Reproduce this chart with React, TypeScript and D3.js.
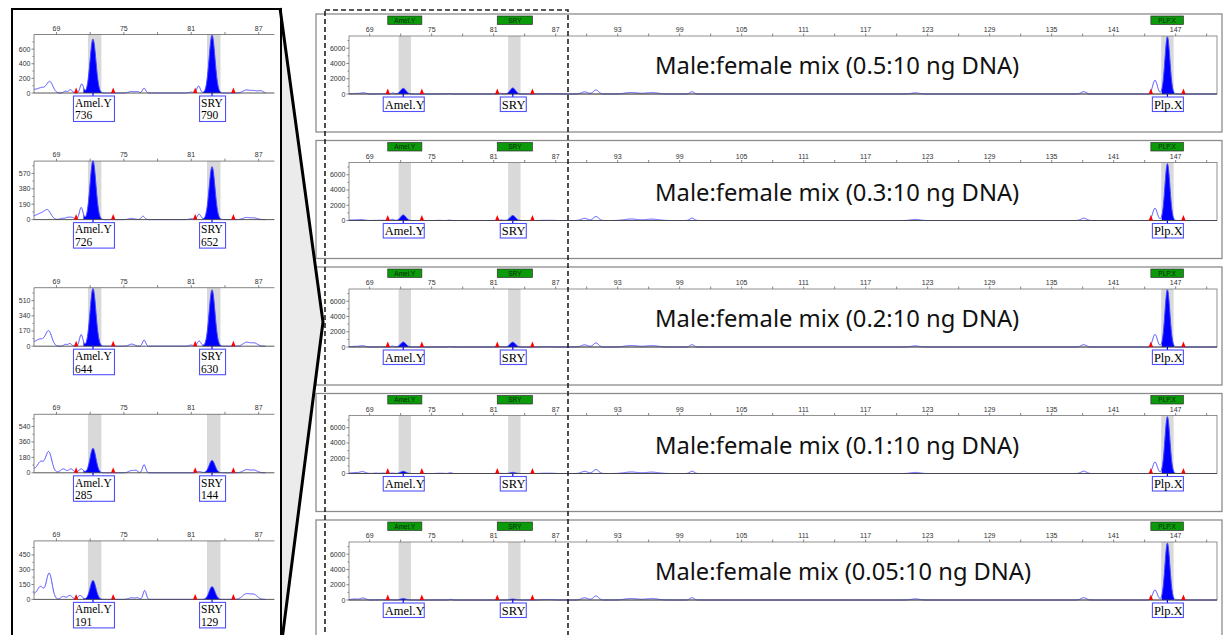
import React from 'react';
import * as d3 from 'd3';

// peaks: [size in bp, height in RFU, width (sigma, bp)]
type Peak = [number, number, number];

const mixLabels = ['0.5:10', '0.3:10', '0.2:10', '0.1:10', '0.05:10'];

const locusNames = ['Amel.Y', 'SRY', 'Plp.X'];
const locusTags = ['Amel.Y', 'SRY', 'PLP.X'];
const locusPeakBp = [72.25, 82.85, 146.2];
const locusSigma = [0.26, 0.26, 0.24];
const markerLo = [70.75, 81.35, 144.6];
const markerHi = [74.05, 84.75, 147.75];
const binLo = [71.8, 82.4, 145.6];
const binHi = [73.0, 83.6, 146.8];
const fillLo = [71.4, 82.0, 145.65];
const fillHi = [73.1, 83.7, 146.85];

const amelHeights = [736, 726, 644, 285, 191];
const sryHeights = [790, 652, 630, 144, 129];
const plpHeights = [7500, 7450, 7500, 7450, 7450];
const plpShoulder = [1800, 1600, 1650, 1500, 1300];
const plpShoulderBp = 145.0;

const zoomYMax = [800, 722, 654, 682, 592];
const zoomYTicks = [
  [0, 200, 400, 600],
  [0, 190, 380, 570],
  [0, 170, 340, 510],
  [0, 180, 360, 540],
  [0, 150, 300, 450],
];
const zoomXTicks = [69, 75, 81, 87];

const fullYMax = 7600;
const fullYTicks = [0, 2000, 4000, 6000];
const fullXTicks = [69, 75, 81, 87, 93, 99, 105, 111, 117, 123, 129, 135, 141, 147];

// background bumps in the 67-88 bp window, one list per dilution
const zoomNoise: Peak[][] = [
  [[67.0, 45, 0.4], [67.7, 60, 0.3], [68.4, 155, 0.28], [69.8, 25, 0.15], [70.25, 45, 0.15], [71.25, 125, 0.15],
   [75.7, 22, 0.25], [76.2, 18, 0.15], [76.8, 65, 0.14], [81.0, 12, 0.2], [81.65, 95, 0.15],
   [85.9, 40, 0.3], [86.6, 32, 0.3], [87.2, 28, 0.2]],
  [[67.0, 40, 0.4], [67.6, 55, 0.3], [68.2, 115, 0.3], [69.5, 15, 0.2], [70.0, 25, 0.2], [70.4, 25, 0.2],
   [71.2, 150, 0.16], [75.7, 15, 0.25], [76.7, 42, 0.15], [81.0, 10, 0.2], [81.7, 67, 0.17],
   [85.9, 25, 0.3], [86.6, 20, 0.3]],
  [[67.0, 45, 0.4], [67.6, 60, 0.3], [68.3, 170, 0.28], [69.8, 20, 0.15], [70.2, 30, 0.15], [71.2, 130, 0.15],
   [75.7, 23, 0.25], [76.8, 68, 0.14], [81.0, 12, 0.2], [81.7, 57, 0.17], [85.9, 42, 0.3], [86.6, 35, 0.3]],
  [[67.0, 45, 0.4], [67.6, 110, 0.25], [68.3, 245, 0.28], [69.6, 45, 0.25], [70.3, 45, 0.2], [71.2, 45, 0.2],
   [75.7, 27, 0.25], [76.1, 20, 0.15], [76.8, 94, 0.14], [81.7, 15, 0.2], [85.9, 35, 0.3], [86.6, 30, 0.3]],
  [[67.0, 55, 0.4], [67.6, 110, 0.25], [68.35, 265, 0.26], [69.6, 30, 0.2], [70.2, 40, 0.2], [71.1, 40, 0.2],
   [75.7, 17, 0.25], [76.2, 15, 0.15], [76.85, 90, 0.14], [85.9, 55, 0.35], [86.6, 45, 0.3]],
];

// bumps past 88 bp, same in every full-range trace
const fullNoise: Peak[] = [
  [89.8, 280, 0.3], [90.9, 520, 0.25], [94.3, 200, 0.6], [96.3, 180, 0.6], [100.2, 300, 0.2],
  [121.8, 140, 0.4], [138.1, 300, 0.25],
];

const FONT = '"Liberation Sans", Arial, sans-serif';
const SERIF = '"Liberation Serif", "Times New Roman", serif';
const TRACE = '#4646ff';
const PEAK = '#0000ff';

const trace = (peaks: Peak[], from: number, to: number) =>
  d3.range(from, to + 1e-9, 0.02).map((bp) => [
    bp,
    d3.sum(peaks, ([c, h, s]) => h * Math.exp(-0.5 * ((bp - c) / s) ** 2)),
  ] as [number, number]);

const Marker = ({ cx, base }: { cx: number; base: number }) => (
  <path d={`M${cx - 2.2},${base} L${cx},${base - 5.5} L${cx + 2.2},${base} Z`} fill="#ff0000" />
);

function ZoomPanel({ i }: { i: number }) {
  const top = 34.5 + i * 126.6;
  const bottom = top + 58.5;
  const x = d3.scaleLinear().domain([67, 88.4]).range([34, 274.4]);
  const y = d3.scaleLinear().domain([0, zoomYMax[i]]).range([bottom, top]);
  const peaks: Peak[] = [
    ...zoomNoise[i],
    [locusPeakBp[0], amelHeights[i], locusSigma[0]],
    [locusPeakBp[1], sryHeights[i], locusSigma[1]],
  ];
  const pts = trace(peaks, 67, 87.6);
  const line = d3.line<[number, number]>().x((d) => x(d[0])).y((d) => y(d[1]));
  const area = d3.area<[number, number]>().x((d) => x(d[0])).y0(bottom).y1((d) => y(d[1]));
  const values = [amelHeights[i], sryHeights[i]];
  const boxW = [41, 26];
  const boxOff = [19.5, 12.5];
  const step = zoomYTicks[i][1];
  return (
    <g>
      {[0, 1].map((k) => (
        <rect key={k} x={x(binLo[k])} y={top} width={x(binHi[k]) - x(binLo[k])} height={bottom - top} fill="#d9d9d9" />
      ))}
      <line x1={x.range()[0]} x2={x.range()[1]} y1={top} y2={top} stroke="#666" strokeWidth={0.8} />
      {d3.range(69, 88, 3).map((t) => (
        <line key={t} x1={x(t)} x2={x(t)} y1={top - 2.5} y2={top} stroke="#666" strokeWidth={0.8} />
      ))}
      {zoomXTicks.map((t) => (
        <text key={t} x={x(t)} y={top - 4} fontSize={7} fontFamily={FONT} fill="#333" textAnchor="middle">{t}</text>
      ))}
      <line x1={x.range()[0]} x2={x.range()[0]} y1={top} y2={bottom} stroke="#666" strokeWidth={0.8} />
      {d3.range(0, zoomYMax[i], step / 2).map((t, j) => (
        <line key={t} x1={x.range()[0] - (j % 2 ? 1.5 : 2.5)} x2={x.range()[0]} y1={y(t)} y2={y(t)} stroke="#666" strokeWidth={0.8} />
      ))}
      {zoomYTicks[i].map((t) => (
        <text key={t} x={x.range()[0] - 3.5} y={y(t) + 2.5} fontSize={7} fontFamily={FONT} fill="#333" textAnchor="end">{t}</text>
      ))}
      {[0, 1].map((k) => (
        <path key={k} d={area(pts.filter((d) => d[0] >= fillLo[k] && d[0] <= fillHi[k])) || ''} fill={PEAK} />
      ))}
      <path d={line(pts) || ''} fill="none" stroke={TRACE} strokeWidth={1} />
      <line x1={x.range()[0]} x2={x.range()[1]} y1={bottom} y2={bottom} stroke="#444" strokeWidth={0.9} />
      {[0, 1].flatMap((k) => [markerLo[k], markerHi[k]]).map((m) => (
        <Marker key={m} cx={x(m)} base={bottom} />
      ))}
      {[0, 1].map((k) => {
        const px = x(locusPeakBp[k]);
        return (
          <g key={k}>
            <line x1={px} x2={px} y1={bottom} y2={bottom + 3} stroke={PEAK} strokeWidth={1.2} />
            <rect x={px - boxOff[k]} y={bottom + 3} width={boxW[k]} height={25.5} fill="#fff" stroke="#5050ff" strokeWidth={1.1} />
            <text x={px - boxOff[k] + 1.5} y={bottom + 13.8} fontSize={11.5} fontFamily={SERIF} fill="#000">{locusNames[k]}</text>
            <text x={px - boxOff[k] + 1.5} y={bottom + 26.3} fontSize={11.5} fontFamily={SERIF} fill="#000">{values[k]}</text>
          </g>
        );
      })}
    </g>
  );
}

function FullPanel({ i }: { i: number }) {
  const ptop = 14 + i * 126.5;
  const top = ptop + 22;
  const bottom = ptop + 80;
  const x = d3.scaleLinear().domain([67, 151]).range([349, 1217]);
  const y = d3.scaleLinear().domain([0, fullYMax]).range([bottom, top]).clamp(true);
  const peaks: Peak[] = [
    ...zoomNoise[i],
    ...fullNoise,
    [locusPeakBp[0], amelHeights[i], locusSigma[0]],
    [locusPeakBp[1], sryHeights[i], locusSigma[1]],
    [plpShoulderBp, plpShoulder[i], 0.22],
    [locusPeakBp[2], plpHeights[i], locusSigma[2]],
  ];
  const pts = trace(peaks, 67, 151);
  const line = d3.line<[number, number]>().x((d) => x(d[0])).y((d) => y(d[1]));
  const area = d3.area<[number, number]>().x((d) => x(d[0])).y0(bottom).y1((d) => y(d[1]));
  const boxW = [41, 26, 31];
  const boxOff = [20, 12.5, 15];
  const title = `Male:female mix (${mixLabels[i]} ng DNA)`;
  return (
    <g>
      <rect x={316} y={ptop} width={906} height={118} fill="#fff" stroke="#8c8c8c" strokeWidth={1.3} />
      {[0, 1, 2].map((k) => (
        <g key={k}>
          <rect x={x(markerLo[k])} y={ptop + 2} width={x(markerHi[k]) - x(markerLo[k])} height={8.5} fill="#0a9a0a" stroke="#333" strokeWidth={0.7} />
          <text x={(x(markerLo[k]) + x(markerHi[k])) / 2} y={ptop + 8.8} fontSize={6.5} fontFamily={FONT} fill="#0b2a0b" textAnchor="middle">{locusTags[k]}</text>
          <rect x={x(binLo[k])} y={top} width={x(binHi[k]) - x(binLo[k])} height={bottom - top} fill="#d9d9d9" />
        </g>
      ))}
      <rect x={x.range()[0]} y={top} width={x.range()[1] - x.range()[0]} height={bottom - top} fill="none" stroke="#777" strokeWidth={0.8} />
      {d3.range(69, 151, 3).map((t) => (
        <line key={t} x1={x(t)} x2={x(t)} y1={top - 2.5} y2={top} stroke="#666" strokeWidth={0.8} />
      ))}
      {fullXTicks.map((t) => (
        <text key={t} x={x(t)} y={top - 4} fontSize={7} fontFamily={FONT} fill="#333" textAnchor="middle">{t}</text>
      ))}
      {d3.range(0, fullYMax, 1000).map((t, j) => (
        <line key={t} x1={x.range()[0] - (j % 2 ? 1.5 : 2.5)} x2={x.range()[0]} y1={y(t)} y2={y(t)} stroke="#666" strokeWidth={0.8} />
      ))}
      {fullYTicks.map((t) => (
        <text key={t} x={x.range()[0] - 3.5} y={y(t) + 2.5} fontSize={7} fontFamily={FONT} fill="#333" textAnchor="end">{t}</text>
      ))}
      <text x={655} y={ptop + 60} fontSize={24} fontFamily='"Noto Sans", "Open Sans", sans-serif' fill="#111"
        textLength={11.75 * title.length} lengthAdjust="spacingAndGlyphs">{title}</text>
      {[0, 1, 2].map((k) => (
        <path key={k} d={area(pts.filter((d) => d[0] >= fillLo[k] && d[0] <= fillHi[k])) || ''} fill={PEAK} />
      ))}
      <path d={line(pts) || ''} fill="none" stroke={TRACE} strokeWidth={1} />
      <line x1={x.range()[0]} x2={x.range()[1]} y1={bottom} y2={bottom} stroke="#444" strokeWidth={0.9} />
      {[0, 1, 2].flatMap((k) => [markerLo[k], markerHi[k]]).map((m) => (
        <Marker key={m} cx={x(m)} base={bottom} />
      ))}
      {[0, 1, 2].map((k) => {
        const px = x(locusPeakBp[k]);
        return (
          <g key={k}>
            <line x1={px} x2={px} y1={bottom} y2={bottom + 3} stroke={PEAK} strokeWidth={1.2} />
            <rect x={px - boxOff[k]} y={bottom + 3} width={boxW[k]} height={14.5} fill="#fff" stroke="#5050ff" strokeWidth={1.1} />
            <text x={px - boxOff[k] + 1.5} y={bottom + 14.5} fontSize={12.5} fontFamily={SERIF} fill="#000">{locusNames[k]}</text>
          </g>
        );
      })}
    </g>
  );
}

export default function App() {
  return (
    <svg width={1226} height={635} style={{ position: 'absolute', left: 0, top: 0, background: '#fff' }}>
      <rect x={0} y={0} width={1226} height={635} fill="#fff" />
      {mixLabels.map((_, i) => <FullPanel key={i} i={i} />)}
      <polygon points="281,9 323,322 282,640" fill="#ebebeb" />
      <rect x={12} y={9} width={269} height={640} fill="#fff" stroke="#000" strokeWidth={2} />
      {mixLabels.map((_, i) => <ZoomPanel key={i} i={i} />)}
      <polyline points="280,8 323,322 282,640" fill="none" stroke="#000" strokeWidth={3} />
      <rect x={325} y={10} width={243} height={640} fill="none" stroke="#222" strokeWidth={1.6} strokeDasharray="5,3" />
    </svg>
  );
}
